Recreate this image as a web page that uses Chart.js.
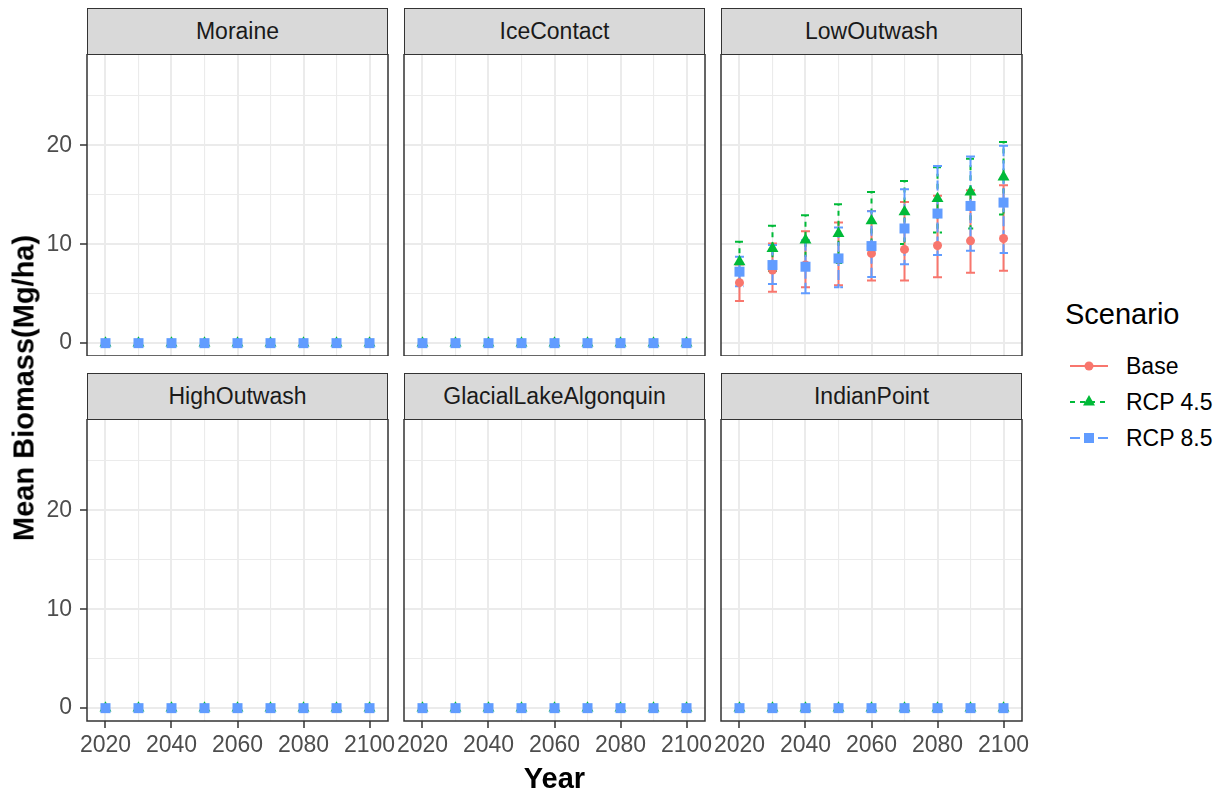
<!DOCTYPE html>
<html>
<head>
<meta charset="utf-8">
<title>Mean Biomass by Landform</title>
<script src="https://cdn.jsdelivr.net/npm/chart.js@4.4.1/dist/chart.umd.min.js"></script>
<style>
  html, body { margin: 0; padding: 0; background: #ffffff; }
  #fig { position: relative; width: 1227px; height: 795px; overflow: hidden;
         font-family: "Liberation Sans", Arial, sans-serif; background: #ffffff; }
  #fig canvas { position: absolute; }
  .strip { position: absolute; box-sizing: border-box; background: #D9D9D9;
           border: 1.5px solid #333333; display: flex; align-items: center;
           justify-content: center; font-size: 23px; line-height: 23px; color: #1A1A1A; }
  .txt { position: absolute; white-space: nowrap; color: #000000; }
</style>
</head>
<body>
<div id="fig"></div>
<script>
// ---- data -------------------------------------------------------------
const years = [2020, 2030, 2040, 2050, 2060, 2070, 2080, 2090, 2100];
const panelNames = ['Moraine', 'IceContact', 'LowOutwash', 'HighOutwash', 'GlacialLakeAlgonquin', 'IndianPoint'];
const scenarioNames = ['Base', 'RCP 4.5', 'RCP 8.5'];
const xTickValues = [2020, 2030, 2040, 2050, 2060, 2070, 2080, 2090, 2100];
const yTickValues = [0, 5, 10, 15, 20, 25];

// LowOutwash: mean biomass with lower / upper error limits (Mg/ha)
const lowOutwashBaseMean  = [6.12, 7.39, 7.90, 8.50, 9.08, 9.48, 9.88, 10.35, 10.59];
const lowOutwashBaseLow   = [4.27, 5.21, 5.65, 5.85, 6.35, 6.35, 6.66, 7.13, 7.33];
const lowOutwashBaseHigh  = [7.95, 10.08, 11.33, 12.20, 13.38, 14.29, 14.90, 15.46, 15.97];
const lowOutwashRcp45Mean = [8.24, 9.58, 10.42, 11.09, 12.37, 13.28, 14.62, 15.29, 16.81];
const lowOutwashRcp45Low  = [6.25, 7.30, 7.90, 8.10, 9.40, 10.02, 11.19, 11.60, 13.01];
const lowOutwashRcp45High = [10.25, 11.87, 12.94, 14.05, 15.29, 16.40, 17.80, 18.66, 20.34];
const lowOutwashRcp85Mean = [7.23, 7.90, 7.73, 8.57, 9.82, 11.60, 13.11, 13.88, 14.22];
const lowOutwashRcp85Low  = [5.75, 5.98, 5.04, 5.65, 6.69, 7.97, 8.91, 9.34, 9.11];
const lowOutwashRcp85High = [8.74, 9.92, 10.40, 11.70, 13.34, 15.56, 17.92, 18.89, 19.97];

// The other landforms carry no biomass in any scenario
const zeroMean = [0, 0, 0, 0, 0, 0, 0, 0, 0];
const zeroLow  = [0, 0, 0, 0, 0, 0, 0, 0, 0];
const zeroHigh = [0, 0, 0, 0, 0, 0, 0, 0, 0];

const flatSeries = [
  { mean: zeroMean, low: zeroLow, high: zeroHigh },
  { mean: zeroMean, low: zeroLow, high: zeroHigh },
  { mean: zeroMean, low: zeroLow, high: zeroHigh }
];
const panelSeries = {
  Moraine: flatSeries,
  IceContact: flatSeries,
  LowOutwash: [
    { mean: lowOutwashBaseMean,  low: lowOutwashBaseLow,  high: lowOutwashBaseHigh },
    { mean: lowOutwashRcp45Mean, low: lowOutwashRcp45Low, high: lowOutwashRcp45High },
    { mean: lowOutwashRcp85Mean, low: lowOutwashRcp85Low, high: lowOutwashRcp85High }
  ],
  HighOutwash: flatSeries,
  GlacialLakeAlgonquin: flatSeries,
  IndianPoint: flatSeries
};

// ---- styling ----------------------------------------------------------
const FONT = '"Liberation Sans", Arial, sans-serif';
const scenarioStyle = [
  { color: '#F8766D', pointStyle: 'circle',   radius: 4.5,  dash: [],      order: 3 },
  { color: '#00BA38', pointStyle: 'triangle', radius: 6.9,  dash: [5, 5],  order: 2 },
  { color: '#619CFF', pointStyle: 'rect',     radius: 7.07, dash: [10, 4], order: 1 }
];

const X_MIN = 2014.4, X_MAX = 2105.6;
const Y_MIN = -1.3, Y_MAX = 29.25;

const colLeft = [87, 404, 721];
const PANEL_W = 301;
const PANEL_H = 302;
const rowTop = [54, 419];
const stripTop = [8, 373];
const STRIP_H = 46;
const Y_AXIS_W = 87;
const X_AXIS_H = 45;
const SIDE_PAD = 30;

Chart.defaults.font.family = FONT;

// error bars drawn beneath the points, as one path per bar (cap, stem, cap)
const errorBarPlugin = {
  id: 'errorBars',
  beforeDatasetsDraw(chart) {
    const { ctx, scales } = chart;
    const xs = scales.x, ys = scales.y;
    const half = 4.5;
    ctx.save();
    chart.data.datasets.forEach(ds => {
      ctx.strokeStyle = ds.borderColor;
      ctx.lineWidth = 2;
      ctx.lineCap = 'butt';
      ctx.lineJoin = 'miter';
      ctx.setLineDash(ds.errorDash);
      ds.data.forEach(p => {
        const px = xs.getPixelForValue(p.x);
        const lo = ys.getPixelForValue(p.lo);
        const hi = ys.getPixelForValue(p.hi);
        ctx.beginPath();
        ctx.moveTo(px - half, hi);
        ctx.lineTo(px + half, hi);
        ctx.lineTo(px, hi);
        ctx.lineTo(px, lo);
        ctx.lineTo(px - half, lo);
        ctx.lineTo(px + half, lo);
        ctx.stroke();
      });
    });
    ctx.restore();
  }
};

// dark frame around each panel
const panelFramePlugin = {
  id: 'panelFrame',
  afterDraw(chart) {
    const { ctx, chartArea: a } = chart;
    ctx.save();
    ctx.strokeStyle = '#333333';
    ctx.lineWidth = 1.5;
    ctx.setLineDash([]);
    ctx.strokeRect(a.left, a.top, a.right - a.left, a.bottom - a.top);
    ctx.restore();
  }
};

const fig = document.getElementById('fig');

function makePanel(name, row, col) {
  const bottomRow = row === 1;
  const leftCol = col === 0;
  const padLeft = leftCol ? 0 : SIDE_PAD;
  const yAxisW = leftCol ? Y_AXIS_W : 0;
  const xAxisH = bottomRow ? X_AXIS_H : 0;

  const cv = document.createElement('canvas');
  const w = padLeft + yAxisW + PANEL_W + SIDE_PAD;
  const h = PANEL_H + xAxisH;
  cv.width = w; cv.height = h;
  cv.style.width = w + 'px'; cv.style.height = h + 'px';
  cv.style.left = (leftCol ? 0 : colLeft[col] - SIDE_PAD) + 'px';
  cv.style.top = rowTop[row] + 'px';
  fig.appendChild(cv);

  const strip = document.createElement('div');
  strip.className = 'strip';
  strip.style.left = colLeft[col] + 'px';
  strip.style.top = stripTop[row] + 'px';
  strip.style.width = PANEL_W + 'px';
  strip.style.height = (STRIP_H + 1) + 'px';
  strip.textContent = name;
  fig.appendChild(strip);

  const series = panelSeries[name];
  const datasets = scenarioNames.map((sc, i) => ({
    label: sc,
    data: years.map((yr, j) => ({ x: yr, y: series[i].mean[j], lo: series[i].low[j], hi: series[i].high[j] })),
    backgroundColor: scenarioStyle[i].color,
    borderColor: scenarioStyle[i].color,
    pointStyle: scenarioStyle[i].pointStyle,
    pointRadius: scenarioStyle[i].radius,
    pointBorderWidth: 0,
    order: scenarioStyle[i].order,
    errorDash: scenarioStyle[i].dash,
    showLine: false
  }));

  new Chart(cv, {
    type: 'scatter',
    data: { datasets },
    plugins: [errorBarPlugin, panelFramePlugin],
    options: {
      responsive: false,
      animation: false,
      devicePixelRatio: 1,
      events: [],
      layout: { autoPadding: false, padding: { left: padLeft, right: SIDE_PAD, top: 0, bottom: 0 } },
      plugins: { legend: { display: false }, tooltip: { enabled: false } },
      scales: {
        x: {
          type: 'linear',
          min: X_MIN, max: X_MAX,
          bounds: 'data',
          border: { display: false },
          afterBuildTicks: s => { s.ticks = xTickValues.map(v => ({ value: v })); },
          afterFit: s => { s.height = xAxisH; s.paddingLeft = 0; s.paddingRight = 0; s.paddingTop = 0; s.paddingBottom = 0; },
          grid: {
            color: '#EBEBEB',
            lineWidth: c => (c.tick && c.tick.value % 20 === 0) ? 2 : 1.1,
            drawTicks: bottomRow,
            tickLength: 7,
            tickWidth: 1.5,
            tickColor: c => (c.tick && c.tick.value % 20 === 0) ? '#333333' : 'rgba(0,0,0,0)'
          },
          ticks: {
            display: bottomRow,
            autoSkip: false,
            maxRotation: 0, minRotation: 0,
            padding: 4,
            color: '#4D4D4D',
            font: { family: FONT, size: 23 },
            callback: v => (v % 20 === 0 ? String(v) : '')
          }
        },
        y: {
          type: 'linear',
          min: Y_MIN, max: Y_MAX,
          bounds: 'data',
          border: { display: false },
          afterBuildTicks: s => { s.ticks = yTickValues.map(v => ({ value: v })); },
          afterFit: s => { s.width = yAxisW; s.paddingTop = 0; s.paddingBottom = 0; s.paddingLeft = 0; s.paddingRight = 0; },
          grid: {
            color: '#EBEBEB',
            lineWidth: c => (c.tick && c.tick.value % 10 === 0) ? 2 : 1.1,
            drawTicks: leftCol,
            tickLength: 7,
            tickWidth: 1.5,
            tickColor: c => (c.tick && c.tick.value % 10 === 0) ? '#333333' : 'rgba(0,0,0,0)'
          },
          ticks: {
            display: leftCol,
            autoSkip: false,
            padding: 8,
            color: '#4D4D4D',
            font: { family: FONT, size: 23 },
            callback: v => (v % 10 === 0 ? String(v) : '')
          }
        }
      }
    }
  });
}

panelNames.forEach((name, k) => makePanel(name, Math.floor(k / 3), k % 3));

// ---- axis titles ------------------------------------------------------
function addText(str, css) {
  const d = document.createElement('div');
  d.className = 'txt';
  d.textContent = str;
  Object.assign(d.style, css);
  fig.appendChild(d);
  return d;
}
addText('Year', { left: '554.5px', top: '763.5px', transform: 'translateX(-50%)',
  font: 'bold 29px ' + FONT, lineHeight: '29px' });
addText('Mean Biomass(Mg/ha)', { left: '24px', top: '388px', transform: 'translate(-50%, -50%) rotate(-90deg)',
  font: 'bold 29px ' + FONT, lineHeight: '29px' });

// ---- legend -----------------------------------------------------------
addText('Scenario', { left: '1065px', top: '299.5px', font: '29px ' + FONT, lineHeight: '29px' });
const legendRowY = [366, 402, 438];
scenarioNames.forEach((sc, i) => {
  const st = scenarioStyle[i];
  const key = document.createElement('canvas');
  key.width = 54; key.height = 20;
  key.style.left = '1062px';
  key.style.top = (legendRowY[i] - 10) + 'px';
  fig.appendChild(key);
  const ctx = key.getContext('2d');
  ctx.strokeStyle = st.color;
  ctx.lineWidth = 2;
  ctx.setLineDash(st.dash);
  ctx.beginPath();
  ctx.moveTo(8, 10);
  ctx.lineTo(46, 10);
  ctx.stroke();
  ctx.setLineDash([]);
  ctx.fillStyle = st.color;
  Chart.helpers.drawPoint(ctx, { pointStyle: st.pointStyle, radius: st.radius, rotation: 0, borderWidth: 0 }, 27, 10);
  addText(sc, { left: '1126px', top: (legendRowY[i] - 11.3) + 'px', font: '23px ' + FONT, lineHeight: '23px' });
});
</script>
</body>
</html>
